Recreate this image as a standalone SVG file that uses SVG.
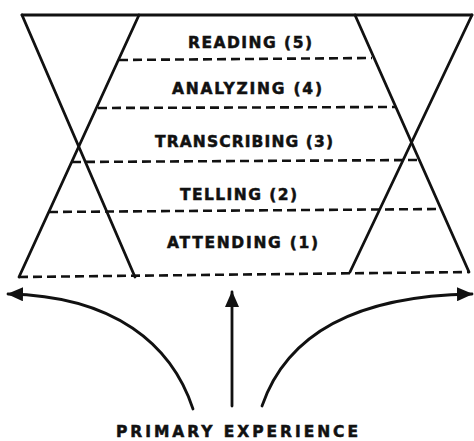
<svg xmlns="http://www.w3.org/2000/svg" width="474" height="441" viewBox="0 0 474 441">
<style>
.ln{stroke:#111;stroke-width:2.8;fill:none;stroke-linecap:round}
.ds{stroke:#111;stroke-width:2.6;fill:none;stroke-dasharray:9 5}
.lb{font-family:"DejaVu Sans","Liberation Sans",sans-serif;font-weight:bold;font-size:15.5px;fill:#111;stroke:#111;stroke-width:0.5}
</style>
<defs>
<marker id="ah" viewBox="0 0 16 14" refX="15" refY="7" markerWidth="16" markerHeight="14" markerUnits="userSpaceOnUse" orient="auto">
<path d="M0,0 L16,7 L0,14 Z" fill="#111"/>
</marker>
</defs>
<rect width="474" height="441" fill="#fff"/>
<g id="frame">
<line class="ln" x1="22" y1="15" x2="472" y2="15"/>
<line class="ln" x1="22" y1="15" x2="135" y2="277"/>
<line class="ln" x1="139" y1="15" x2="19" y2="277"/>
<line class="ln" x1="355" y1="15" x2="469" y2="272"/>
<line class="ln" x1="472" y1="15" x2="350" y2="272"/>
<line class="ds" x1="119" y1="60" x2="372" y2="58"/>
<line class="ds" x1="98" y1="108" x2="395" y2="107"/>
<line class="ds" x1="72" y1="162" x2="419" y2="160"/>
<line class="ds" x1="49" y1="212" x2="441" y2="209"/>
<line class="ds" x1="19" y1="277" x2="469" y2="272"/>
</g>
<g id="reading"><text class="lb" x="188" y="48" textLength="124">READING (5)</text></g>
<g id="analyzing"><text class="lb" x="172" y="94" textLength="150">ANALYZING (4)</text></g>
<g id="transcribing"><text class="lb" x="155" y="147" textLength="178">TRANSCRIBING (3)</text></g>
<g id="telling"><text class="lb" x="180" y="200" textLength="117">TELLING (2)</text></g>
<g id="attending"><text class="lb" x="167" y="248" textLength="151">ATTENDING (1)</text></g>
<g id="primary-experience"><text class="lb" x="116" y="437" textLength="242">PRIMARY EXPERIENCE</text></g>
<g id="connectors">
<path class="ln" d="M193,409 C172,345 115,296 8,294" marker-end="url(#ah)"/>
<path class="ln" d="M232,406 L232,292" marker-end="url(#ah)"/>
<path class="ln" d="M262,406 C283,345 340,296 472,294" marker-end="url(#ah)"/>
</g>
</svg>
